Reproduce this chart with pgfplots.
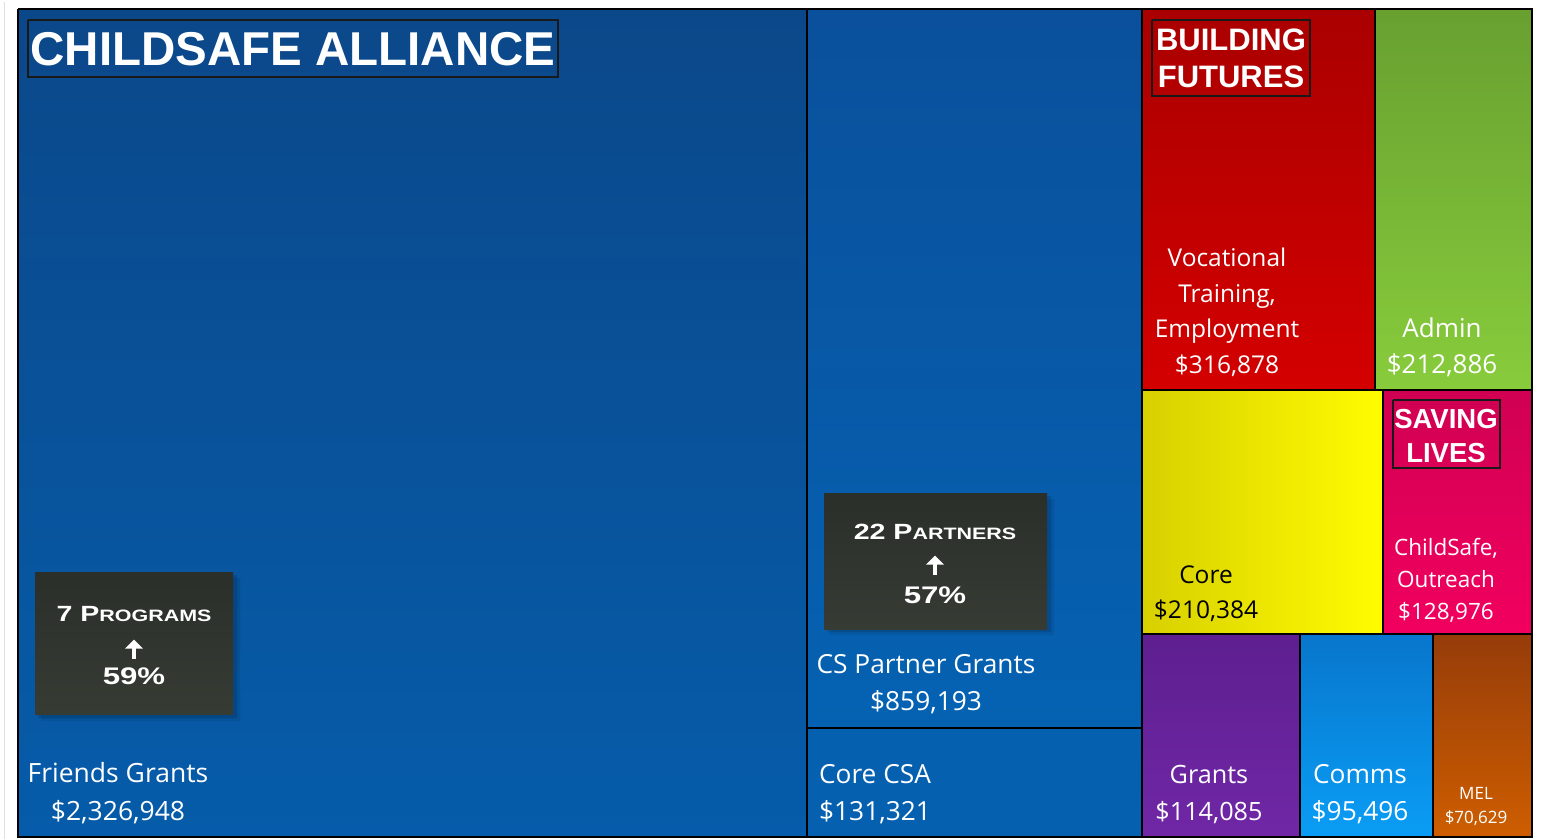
\documentclass[border=0pt]{standalone}
\usepackage{pgfplots}
\pgfplotsset{compat=1.18}
\usetikzlibrary{arrows.meta}
\usepackage{fontspec}
\usepackage{graphicx}
\setmainfont{Open Sans}
\newfontfamily\arialf{Liberation Sans}
\newcommand{\fs}[1]{\fontsize{#1bp}{#1bp}\selectfont}
\newcommand{\rect}[5]{\addplot[#5] coordinates {(#1,#2)(#3,#2)(#3,#4)(#1,#4)(#1,#2)};}
\newcommand{\wide}[1]{\scalebox{1.3}[1]{#1}}
\newcommand{\uparr}{\tikz[baseline=0pt]{\draw[white, line width=4.2bp, -{Triangle[length=9bp, width=17bp]}] (0,0)--(0,19bp);}}
\begin{document}
\begin{tikzpicture}
\begin{axis}[
  width=1542bp, height=839bp, scale only axis,
  xmin=0, xmax=1542, ymin=0, ymax=839, y dir=reverse,
  hide axis, clip=false,
  every axis plot/.append style={line width=1.3bp, line join=miter},
]
% background
\rect{0}{0}{1542}{839}{fill=white, draw=none}
\addplot[draw=black!12, line width=1bp] coordinates {(4,2)(4,839)};
% blue group
\rect{18}{9}{807}{837}{draw=black, top color={rgb,255:red,11;green,72;blue,138}, bottom color={rgb,255:red,6;green,92;blue,170}}
\rect{807}{9}{1142}{728}{draw=black, top color={rgb,255:red,10;green,80;blue,156}, bottom color={rgb,255:red,5;green,98;blue,178}}
\rect{807}{728}{1142}{837}{draw=black, fill={rgb,255:red,6;green,96;blue,176}}
% building futures
\rect{1142}{9}{1375}{390}{draw=black, top color={rgb,255:red,170;green,0;blue,0}, bottom color={rgb,255:red,212;green,0;blue,0}}
\rect{1375}{9}{1532}{390}{draw=black, top color={rgb,255:red,104;green,160;blue,48}, bottom color={rgb,255:red,136;green,204;blue,60}}
\rect{1142}{390}{1383}{634}{draw=black, left color={rgb,255:red,216;green,208;blue,0}, right color={rgb,255:red,255;green,252;blue,0}}
% saving lives
\rect{1383}{390}{1532}{634}{draw=black, top color={rgb,255:red,208;green,0;blue,82}, bottom color={rgb,255:red,242;green,0;blue,95}}
\rect{1142}{634}{1300}{837}{draw=black, top color={rgb,255:red,94;green,31;blue,144}, bottom color={rgb,255:red,112;green,39;blue,166}}
\rect{1300}{634}{1433}{837}{draw=black, top color={rgb,255:red,8;green,118;blue,204}, bottom color={rgb,255:red,10;green,157;blue,245}}
\rect{1433}{634}{1532}{837}{draw=black, top color={rgb,255:red,150;green,60;blue,10}, bottom color={rgb,255:red,206;green,94;blue,0}}
% group title boxes
\rect{28}{20}{558}{77}{draw=black!90, line width=1.5bp}
\rect{1152}{20}{1310}{96}{draw=black!90, line width=1.5bp}
\rect{1393}{400}{1500}{468}{draw=black!90, line width=1.5bp}
% dark KPI boxes with soft shadows
\rect{38}{575}{237}{718}{draw=none, fill=black, fill opacity=0.12}
\rect{41}{578}{240}{721}{draw=none, fill=black, fill opacity=0.08}
\rect{35}{572}{233}{714}{draw=none, top color={rgb,255:red,42;green,47;blue,42}, bottom color={rgb,255:red,54;green,59;blue,52}}
\rect{827}{496}{1051}{632}{draw=none, fill=black, fill opacity=0.12}
\rect{830}{499}{1054}{635}{draw=none, fill=black, fill opacity=0.08}
\rect{824}{493}{1047}{629}{draw=none, top color={rgb,255:red,42;green,47;blue,42}, bottom color={rgb,255:red,54;green,59;blue,52}}
\end{axis}
% ---- texts ----
\begin{axis}[
  width=1542bp, height=839bp, scale only axis,
  xmin=0, xmax=1542, ymin=0, ymax=839, y dir=reverse,
  hide axis, clip=false,
]
\tikzset{lab/.style={anchor=base, text=white, inner sep=0pt, font=\fs{24.5}}}
\node[anchor=center, text=white, font=\arialf\bfseries\fs{47.5}, inner sep=0pt] at (axis cs:293,49) {CHILDSAFE ALLIANCE};
\node[anchor=base, text=white, font=\arialf\bfseries\fs{31}, inner sep=0pt] at (axis cs:1231,51) {BUILDING};
\node[anchor=base, text=white, font=\arialf\bfseries\fs{31}, inner sep=0pt] at (axis cs:1231,88) {FUTURES};
\node[anchor=base, text=white, font=\arialf\bfseries\fs{27.5}, inner sep=0pt] at (axis cs:1446,428) {SAVING};
\node[anchor=base, text=white, font=\arialf\bfseries\fs{27.5}, inner sep=0pt] at (axis cs:1446,462) {LIVES};
% labels
\node[lab, font=\fs{26.5}] at (axis cs:118,782.6) {Friends Grants};
\node[lab, font=\fs{26.5}] at (axis cs:118,820) {\$2,326,948};
\node[lab, font=\fs{26.3}] at (axis cs:926,673) {CS Partner Grants};
\node[lab, font=\fs{26.3}] at (axis cs:926,710) {\$859,193};
\node[lab, font=\fs{26.3}] at (axis cs:875,783) {Core CSA};
\node[lab, font=\fs{26.3}] at (axis cs:875,820) {\$131,321};
\node[lab] at (axis cs:1227,267) {Vocational};
\node[lab] at (axis cs:1227,302) {Training,};
\node[lab] at (axis cs:1227,337) {Employment};
\node[lab] at (axis cs:1227,373) {\$316,878};
\node[lab, font=\fs{26}] at (axis cs:1442,337) {Admin};
\node[lab, font=\fs{26}] at (axis cs:1442,373) {\$212,886};
\node[lab, text=black] at (axis cs:1206,583) {Core};
\node[lab, text=black] at (axis cs:1206,618) {\$210,384};
\node[lab, font=\fs{22.5}] at (axis cs:1446,555) {ChildSafe,};
\node[lab, font=\fs{22.5}] at (axis cs:1446,587) {Outreach};
\node[lab, font=\fs{22.5}] at (axis cs:1446,619) {\$128,976};
\node[lab, font=\fs{25.2}] at (axis cs:1209,783) {Grants};
\node[lab, font=\fs{25.2}] at (axis cs:1209,820) {\$114,085};
\node[lab, font=\fs{26.3}] at (axis cs:1360,783) {Comms};
\node[lab, font=\fs{26.3}] at (axis cs:1360,820) {\$95,496};
\node[lab, font=\fs{17}] at (axis cs:1476,799) {MEL};
\node[lab, font=\fs{17}] at (axis cs:1476,823) {\$70,629};
% KPI texts
\node[anchor=base, text=white, inner sep=0pt] at (axis cs:134,621) {\wide{\arialf\bfseries\fs{22}7 P\fs{16.5}ROGRAMS}};
\node[anchor=center, inner sep=0pt] at (axis cs:134,649) {\uparr};
\node[anchor=base, text=white, inner sep=0pt] at (axis cs:134,684) {\wide{\arialf\bfseries\fs{24}59\%}};
\node[anchor=base, text=white, inner sep=0pt] at (axis cs:935,539) {\wide{\arialf\bfseries\fs{22}22 P\fs{16.5}ARTNERS}};
\node[anchor=center, inner sep=0pt] at (axis cs:935,565) {\uparr};
\node[anchor=base, text=white, inner sep=0pt] at (axis cs:935,603) {\wide{\arialf\bfseries\fs{24}57\%}};
\end{axis}
\end{tikzpicture}
\end{document}
